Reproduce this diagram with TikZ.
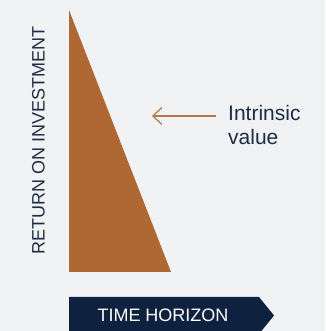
\documentclass[tikz,border=0pt]{standalone}
\usepackage{fontspec}
\setmainfont{Liberation Sans}
\usepackage{tikz}
\usetikzlibrary{arrows.meta,positioning,calc}
\definecolor{roibg}{HTML}{F1F2F4}
\definecolor{roirust}{HTML}{AF6734}
\definecolor{roinavy}{HTML}{0E2240}
\definecolor{roitext}{HTML}{1E2D45}
\tikzset{
  pointer/.style={-{Straight Barb[length=9pt,width=17pt,line width=1.2pt]},line width=1.2pt,roirust!90!white},
  axislabel/.style={font=\fontsize{18}{22}\selectfont,text=roitext,inner sep=0pt},
  notetext/.style={font=\fontsize{21}{24}\selectfont,text=roitext,align=left,inner sep=0pt},
  banner/.style={fill=roinavy,draw=none}
}

\begin{document}
\begin{tikzpicture}[x=1pt,y=1pt]
\useasboundingbox (0,0) rectangle (325,331);
\clip (0,0) rectangle (325,331);
\fill[roibg] (0,0) rectangle (325,331);
% value triangle
\fill[roirust] (69,321) -- (69,59) -- (171,59) -- cycle;
% y axis caption
\node[axislabel,rotate=90] (roi) at (38.5,190.5) {RETURN ON INVESTMENT};
% label with pointer
\node[notetext,anchor=north west] (intrinsic) at (228,226) {Intrinsic\\value};
\coordinate (tail) at (216,215);
\coordinate (tip) at (152,215);
\draw[pointer] (tail) -- (tip);
% x axis banner
\fill[banner] (69,-3) -- (69,34) -- (259,34) -- (274,15.5) -- (259,-3) -- cycle;
\node[axislabel,text=white] (time) at (163,16) {TIME HORIZON};
\end{tikzpicture}
\end{document}
